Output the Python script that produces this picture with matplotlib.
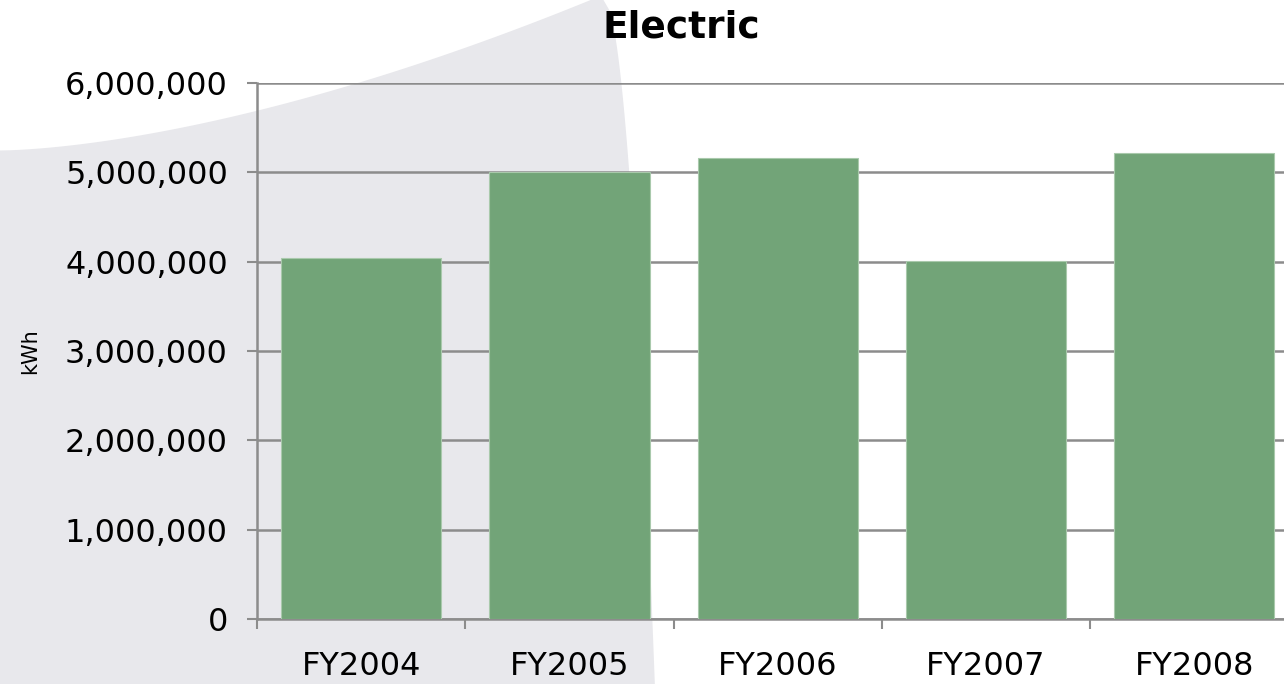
import matplotlib.pyplot as plt
import numpy as np
from matplotlib.patches import Polygon
from matplotlib.ticker import FuncFormatter

years = ['FY2004', 'FY2005', 'FY2006', 'FY2007', 'FY2008']
kwh = [4040000, 5000000, 5160000, 4010000, 5220000]

fig = plt.figure(figsize=(12.84, 6.84), dpi=100)
fig.patch.set_facecolor('white')

# background swoosh (decoration only)
bg = fig.add_axes([0, 0, 1, 1], zorder=-10)
bg.set_xlim(0, 1)
bg.set_ylim(0, 1)
bg.axis('off')
t = np.linspace(0, 1, 60)
top_x = 0.46 * t
top_y = 0.78 + 0.22 * t ** 1.6
right_y = np.linspace(1, 0, 60)
right_x = 0.47 + 0.04 * (1 - right_y) ** 0.5
pts = np.vstack([np.column_stack([top_x, top_y]),
                 np.column_stack([right_x, right_y]),
                 [[0, 0]]])
bg.add_patch(Polygon(pts, closed=True, facecolor='#e8e8ec', edgecolor='none'))

ax = fig.add_axes([0.2002, 0.095, 0.811, 0.7837])
ax.patch.set_alpha(0)
x = np.arange(len(years))
ax.bar(x, kwh, width=0.77, color='#72a478', edgecolor='#a9c9ac', linewidth=0.8, zorder=3)

ax.set_xlim(-0.5, len(years) - 0.5)
ax.set_ylim(0, 6000000)
ax.set_yticks(np.arange(0, 6000001, 1000000))
ax.yaxis.set_major_formatter(FuncFormatter(lambda v, p: f'{int(v):,}'))
ax.grid(axis='y', color='#8c8c8c', linewidth=1.8, zorder=1)

ax.set_xticks(x)
ax.set_xticklabels(years)
ax.set_xticks(np.arange(-0.5, len(years), 1), minor=True)
ax.tick_params(axis='x', which='major', length=0, pad=23, labelsize=23)
ax.tick_params(axis='x', which='minor', length=7, width=1.5, color='#8c8c8c')
ax.tick_params(axis='y', length=7, width=1.5, color='#8c8c8c', labelsize=23, pad=14)

for s in ['top', 'right']:
    ax.spines[s].set_visible(False)
for s in ['left', 'bottom']:
    ax.spines[s].set_color('#8c8c8c')
    ax.spines[s].set_linewidth(1.8)

ax.set_ylabel('kWh', fontsize=15)
ax.yaxis.set_label_coords(-0.208, 0.5)
fig.text(0.531, 0.96, 'Electric', ha='center', va='center', fontsize=27, fontweight='bold')

plt.savefig('out.png', dpi=100)
